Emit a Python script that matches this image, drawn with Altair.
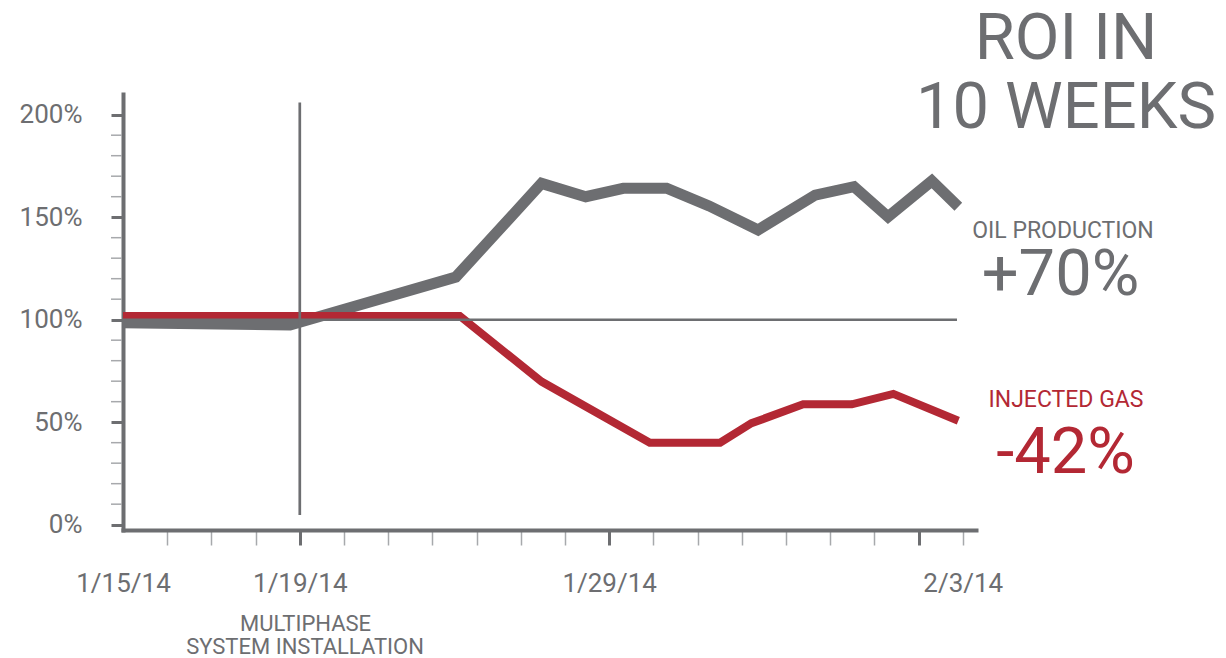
import altair as alt
import pandas as pd

# ---------------- data (x in axis-tick units: 0 = 1/15/14, 4 = 1/19/14, 11 = 1/29/14, 19 = 2/3/14)
oil_x = [0, 3.78, 7.53, 9.47, 10.47, 11.32, 12.30, 13.26, 14.37, 15.66, 16.54, 17.31, 18.30, 18.90]
oil_y = [98.5, 97.4, 120.8, 166.5, 160.0, 164.1, 164.1, 155.5, 143.8, 160.8, 164.9, 150.2, 167.7, 155.1]

gas_x = [0, 7.62, 9.47, 11.92, 13.51, 14.22, 15.39, 16.49, 17.43, 18.90]
gas_y = [101.8, 101.8, 69.8, 40.0, 40.0, 49.5, 58.7, 58.7, 63.8, 50.7]

x_tick_values = list(range(0, 20))
x_label_positions = [0, 4, 11, 19]
x_label_texts = ["1/15/14", "1/19/14", "1/29/14", "2/3/14"]
x_major_ticks = [4, 11, 18]
y_major_values = [0, 50, 100, 150, 200]
y_minor_values = [v for v in range(10, 200, 10) if v % 50 != 0]

baseline_value = [100]
baseline_start = [0]
baseline_end = [18.87]
install_x = [4]
install_y_from = [4.7]
install_y_to = [206]

title_lines = ["ROI IN", "10 WEEKS"]
oil_label = "OIL PRODUCTION"
oil_change = "+70%"
gas_label = "INJECTED GAS"
gas_change = "-42%"
install_lines = ["MULTIPHASE", "SYSTEM INSTALLATION"]

# ---------------- styles
GRAY = "#6d6e71"
LIGHT = "#a7a9ac"
RED = "#b32834"
FONT = "Roboto"
WEIGHT = 400

oil = pd.DataFrame({"x": oil_x, "y": oil_y})
gas = pd.DataFrame({"x": gas_x, "y": gas_y})

xscale = alt.Scale(domain=[0, 19.3], nice=False, zero=False)
yscale = alt.Scale(domain=[-2.6, 210.1], nice=False, zero=False)

label_expr = " : ".join(
    f"datum.value == {p} ? '{t}'" for p, t in zip(x_label_positions, x_label_texts)
) + " : ''"
x_major_test = f"indexof({x_major_ticks}, datum.value) >= 0"

xaxis = alt.Axis(
    values=x_tick_values, labelExpr=label_expr, title=None, grid=False,
    domainColor=GRAY, domainWidth=4, domainCap="square",
    tickSize=15,
    tickColor={"condition": {"test": x_major_test, "value": GRAY}, "value": LIGHT},
    tickWidth={"condition": {"test": x_major_test, "value": 3}, "value": 1.5},
    tickOpacity={"condition": {"test": "datum.value == 0", "value": 0}, "value": 1},
    labelFont=FONT, labelFontSize=26, labelFontWeight=WEIGHT, labelColor=GRAY,
    labelPadding=25, labelFlush=False, labelOverlap=False,
)
yaxis = alt.Axis(
    values=y_major_values,
    labelExpr="datum.value + '%'",
    title=None, grid=False,
    domainColor=GRAY, domainWidth=4, domainCap="square",
    tickSize=12, tickColor=GRAY, tickWidth=3,
    labelFont=FONT, labelFontSize=26, labelFontWeight=WEIGHT, labelColor=GRAY,
    labelPadding=29, labelFlush=False, labelOverlap=False,
)

oil_line = alt.Chart(oil).mark_line(
    color=GRAY, strokeWidth=11, strokeJoin="miter", strokeCap="butt"
).encode(
    x=alt.X("x:Q", scale=xscale, axis=xaxis),
    y=alt.Y("y:Q", scale=yscale, axis=yaxis),
)
gas_line = alt.Chart(gas).mark_line(
    color=RED, strokeWidth=8, strokeJoin="miter", strokeCap="butt"
).encode(x=alt.X("x:Q", scale=xscale), y=alt.Y("y:Q", scale=yscale))

minor_ticks = alt.Chart(pd.DataFrame({"v": y_minor_values})).mark_rule(
    color=LIGHT, strokeWidth=1.5
).encode(y=alt.Y("v:Q", scale=yscale), x=alt.value(-12), x2=alt.value(-1))

hrule = alt.Chart(pd.DataFrame({"x": baseline_start, "x2": baseline_end, "y": baseline_value})).mark_rule(
    color=GRAY, strokeWidth=2.5
).encode(x=alt.X("x:Q", scale=xscale), x2="x2:Q", y=alt.Y("y:Q", scale=yscale))

vrule = alt.Chart(pd.DataFrame({"x": install_x, "y": install_y_from, "y2": install_y_to})).mark_rule(
    color=GRAY, strokeWidth=2.7
).encode(x=alt.X("x:Q", scale=xscale), y=alt.Y("y:Q", scale=yscale), y2="y2:Q")


def label(text, px, py, size, color=GRAY):
    return alt.Chart(pd.DataFrame({"t": [text]})).mark_text(
        align="center", baseline="alphabetic", font=FONT, fontSize=size,
        fontWeight=WEIGHT, color=color
    ).encode(text="t:N", x=alt.value(px), y=alt.value(py))


texts = [
    label(title_lines[0], 943, -34.7, 65),
    label(title_lines[1], 943, 34.3, 65),
    label(oil_label, 940, 143.7, 23),
    label(oil_change, 937.5, 201, 65),
    label(gas_label, 943, 312.7, 23, RED),
    label(gas_change, 942.5, 379.3, 65, RED),
    label(install_lines[0], 182.5, 536.7, 22),
    label(install_lines[1], 182, 560, 22),
]

chart = alt.layer(minor_ticks, oil_line, gas_line, hrule, vrule, *texts).properties(
    width=853, height=436,
    autosize=alt.AutoSizeParams(type="none"),
    padding={"left": 115, "top": 86, "right": 242, "bottom": 128},
).configure_view(stroke=None)

chart.save("out.html", embed_options={"renderer": "svg", "actions": False})
